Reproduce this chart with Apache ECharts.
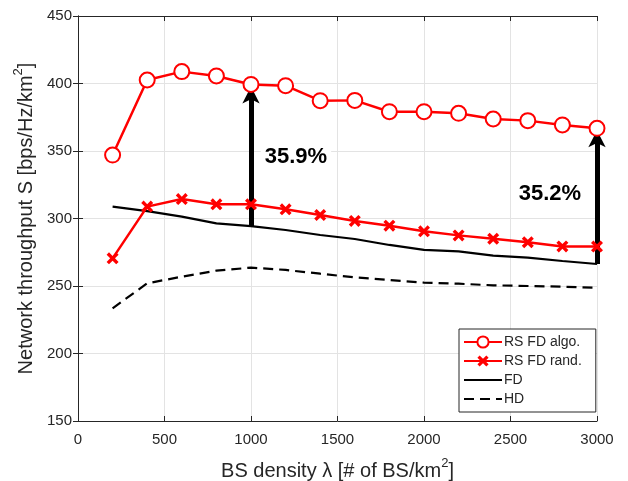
<!DOCTYPE html>
<html>
<head>
<meta charset="utf-8">
<script src="https://cdn.jsdelivr.net/npm/echarts@6/dist/echarts.min.js"></script>
<style>html,body{margin:0;padding:0;background:#fff;}#c{width:628px;height:481px;}</style>
</head>
<body>
<div id="c"></div>
<script>
// ---- data ----
const xVals = [200, 400, 600, 800, 1000, 1200, 1400, 1600, 1800, 2000, 2200, 2400, 2600, 2800, 3000];
const rsAlgo = [347, 402.6, 408.8, 405.6, 399.3, 398.4, 387.3, 387.5, 379.1, 379.1, 377.9, 373.7, 372.5, 369.3, 366.8];
const rsRand = [270.5, 308.8, 314.4, 310.5, 310.5, 306.8, 302.6, 298.2, 294.7, 290.5, 287.5, 285, 282.4, 279.3, 279.2];
const fd = [308.8, 305.5, 301.4, 296.4, 294.4, 291.5, 287.8, 284.8, 280.4, 276.7, 275.7, 272.5, 271, 268.5, 266.3];
const hd = [233.5, 252, 256.9, 261.4, 263.6, 261.9, 259.1, 256.4, 254.4, 252.5, 251.7, 250.5, 250, 249.5, 248.7];
const seriesNames = ['RS FD algo.', 'RS FD rand.', 'FD', 'HD'];
const xTicks = [0, 500, 1000, 1500, 2000, 2500, 3000];
const yTicks = [150, 200, 250, 300, 350, 400, 450];
// arrows: [x, yFrom, yTo]
const arrowX = [1000, 3000];
const arrowFrom = [294.4, 266.3];
const arrowTo = [397.8, 365.3];
const annX = [1260, 2728];
const annY = [345.5, 318];
const annText = ['35.9%', '35.2%'];

const pair = (ys) => xVals.map((x, i) => [x, ys[i]]);
const FONT = "'Liberation Sans', Arial, Helvetica, sans-serif";
const AX = '#262626';
const RED = '#ff0000';
const xPath = 'path://M2,0 L5,3 L8,0 L10,2 L7,5 L10,8 L8,10 L5,7 L2,10 L0,8 L3,5 L0,2 Z';

const chart = echarts.init(document.getElementById('c'), null, {renderer: 'canvas'});

const baseAxis = {
  type: 'value',
  axisLine: {show: true, lineStyle: {color: AX, width: 1}},
  axisTick: {show: true, inside: true, length: 5, lineStyle: {color: AX}},
  splitLine: {show: false},
};
const rich = {
  a: {fontSize: 20, fontFamily: FONT, color: AX, lineHeight: 24, verticalAlign: 'bottom'},
  s: {fontSize: 13, fontFamily: FONT, color: AX, lineHeight: 14, verticalAlign: 'top'}
};

const option = {
  animation: false,
  backgroundColor: '#fff',
  textStyle: {fontFamily: FONT},
  grid: {left: 78, right: 31, top: 16, bottom: 60, show: false, containLabel: false, outerBoundsMode: 'none'},
  xAxis: [
    Object.assign({}, baseAxis, {
      min: xTicks[0], max: xTicks[xTicks.length - 1], interval: 500, position: 'bottom',
      axisLabel: {color: AX, fontSize: 15, margin: 11, fontFamily: FONT, formatter: (v) => String(v)},
      splitLine: {show: true, lineStyle: {color: '#e3e3e3', width: 1}},
      name: '{a|BS density λ [# of BS/km}{s|2}{a|]}',
      nameLocation: 'middle', nameGap: 36,
      nameTextStyle: {rich: rich}
    }),
    Object.assign({}, baseAxis, {
      min: xTicks[0], max: xTicks[xTicks.length - 1], interval: 500, position: 'top',
      axisLabel: {show: false}
    })
  ],
  yAxis: [
    Object.assign({}, baseAxis, {
      min: yTicks[0], max: yTicks[yTicks.length - 1], interval: 50, position: 'left',
      axisLabel: {color: AX, fontSize: 15, margin: 6, fontFamily: FONT, formatter: (v) => String(v)},
      splitLine: {show: true, lineStyle: {color: '#e3e3e3', width: 1}},
      name: '{a|Network throughput S [bps/Hz/km}{s|2}{a|]}',
      nameLocation: 'middle', nameGap: 33, nameRotate: 90,
      nameTextStyle: {rich: rich}
    }),
    Object.assign({}, baseAxis, {
      min: yTicks[0], max: yTicks[yTicks.length - 1], interval: 50, position: 'right',
      axisLabel: {show: false}
    })
  ],
  legend: {
    data: [
      {name: seriesNames[0]},
      {name: seriesNames[1]},
      {name: seriesNames[2], itemStyle: {opacity: 0}},
      {name: seriesNames[3], itemStyle: {opacity: 0}}
    ],
    orient: 'vertical',
    left: 459, top: 329,
    padding: [6, 14, 6, 4],
    itemGap: 5,
    itemWidth: 38, itemHeight: 14,
    borderColor: AX, borderWidth: 1, borderRadius: 0,
    backgroundColor: '#fff',
    textStyle: {fontSize: 14, color: AX, fontFamily: FONT, padding: [0, 0, 0, -3]},
    selectedMode: false
  },
  series: [
    {
      name: seriesNames[3], type: 'line', data: pair(hd), symbol: 'none',
      lineStyle: {color: '#000', width: 2.2, type: [10, 6]}, itemStyle: {color: '#000'}, z: 3
    },
    {
      name: seriesNames[2], type: 'line', data: pair(fd), symbol: 'none',
      lineStyle: {color: '#000', width: 2.2}, itemStyle: {color: '#000'}, z: 3
    },
    {
      name: 'arrows', type: 'line', data: [], z: 4,
      markLine: {
        silent: true, animation: false,
        symbol: ['none', 'arrow'], symbolSize: [13, 17],
        lineStyle: {color: '#000', width: 5, type: 'solid'},
        label: {show: false},
        data: arrowX.map((x, i) => [{coord: [x, arrowFrom[i]]}, {coord: [x, arrowTo[i]]}])
      }
    },
    {
      name: seriesNames[1], type: 'line', data: pair(rsRand),
      symbol: xPath, symbolSize: 12,
      lineStyle: {color: RED, width: 2.5}, itemStyle: {color: RED}, z: 5
    },
    {
      name: seriesNames[0], type: 'line', data: pair(rsAlgo),
      symbol: 'emptyCircle', symbolSize: 15,
      lineStyle: {color: RED, width: 2.5}, itemStyle: {color: RED, borderColor: RED, borderWidth: 2.5}, z: 5
    },
    {
      name: 'annotations', type: 'scatter', symbolSize: 0, z: 2,
      itemStyle: {opacity: 1, color: '#000'},
      data: annX.map((x, i) => ({value: [x, annY[i]], label: {formatter: annText[i]}})),
      label: {show: true, position: 'inside', fontSize: 22, fontWeight: 'bold', color: '#000',
        fontFamily: FONT, backgroundColor: '#fff', padding: [5, 4, 3, 4]}
    }
  ]
};
chart.setOption(option);
</script>
</body>
</html>
